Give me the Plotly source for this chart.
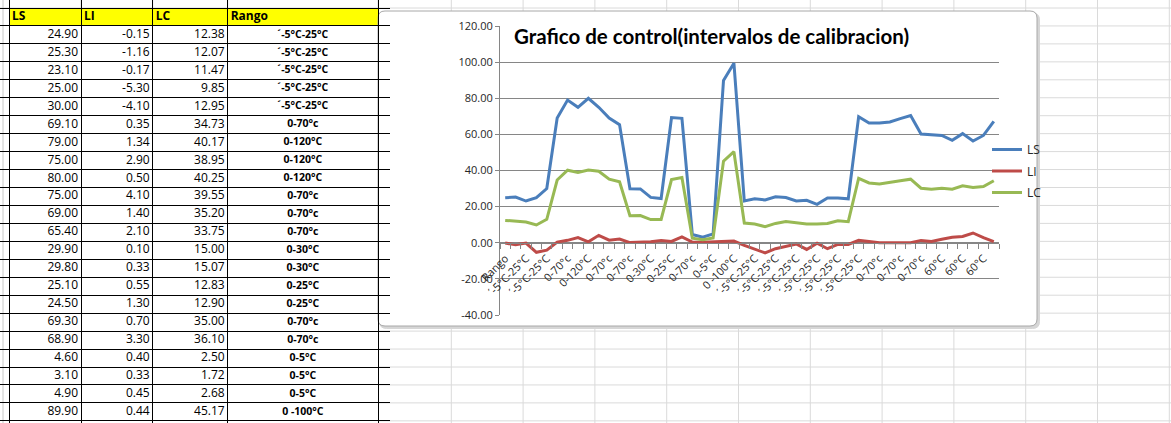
import plotly.graph_objects as go

# ---------------- data ----------------
categories = [
    "Rango",
    "´-5°C-25°C", "´-5°C-25°C", "´-5°C-25°C", "´-5°C-25°C", "´-5°C-25°C",
    "0-70°c", "0-120°C", "0-120°C", "0-120°C",
    "0-70°c", "0-70°c", "0-70°c",
    "0-30°C", "0-30°C", "0-25°C", "0-25°C",
    "0-70°c", "0-70°c",
    "0-5°C", "0-5°C", "0-5°C",
    "0 -100°C", "0 -100°C",
    "´-5°C-25°C", "´-5°C-25°C", "´-5°C-25°C", "´-5°C-25°C", "´-5°C-25°C", "´-5°C-25°C",
    "´-5°C-25°C", "´-5°C-25°C", "´-5°C-25°C", "´-5°C-25°C", "´-5°C-25°C",
    "0-70°c", "0-70°c", "0-70°c", "0-70°c", "0-70°c", "0-70°c",
    "60°C", "60°C", "60°C", "60°C", "60°C", "60°C", "60°C",
]

LS = [24.90, 25.30, 23.10, 25.00, 30.00, 69.10, 79.00, 75.00, 80.00, 75.00, 69.00,
      65.40, 29.90, 29.80, 25.10, 24.50, 69.30, 68.90, 4.60, 3.10, 4.90, 89.90,
      99.4, 23.1, 24.3, 23.7, 25.4, 25.0, 23.1, 23.5, 21.3, 24.8, 24.8, 24.3,
      69.8, 66.3, 66.3, 66.9, 68.7, 70.4,
      60.2, 59.6, 59.4, 56.7, 60.4, 56.3, 59.4, 67.2]
LI = [-0.15, -1.16, -0.17, -5.30, -4.10, 0.35, 1.34, 2.90, 0.50, 4.10, 1.40,
      2.10, 0.10, 0.33, 0.55, 1.30, 0.70, 3.30, 0.40, 0.33, 0.45, 0.44,
      0.9, -1.5, -3.5, -5.6, -3.3, -1.9, -0.7, -3.7, -0.2, -3.3, -0.9, -0.9,
      1.3, 0.7, 0.0, 0.0, 0.0, 0.0,
      1.3, 0.7, 1.9, 3.0, 3.5, 5.4, 2.8, 0.6]
LC = [12.38, 12.07, 11.47, 9.85, 12.95, 34.73, 40.17, 38.95, 40.25, 39.55, 35.20,
      33.75, 15.00, 15.07, 12.83, 12.90, 35.00, 36.10, 2.50, 1.72, 2.68, 45.17,
      50.4, 10.9, 10.4, 8.9, 10.7, 11.7, 11.1, 10.4, 10.4, 10.7, 12.2, 11.7,
      35.7, 33.1, 32.6, 33.3, 34.3, 35.2,
      30.2, 29.6, 30.2, 29.6, 31.5, 30.6, 31.1, 34.3]

headers = ["LS", "LI", "LC", "Rango"]
y_ticks = [-40, -20, 0, 20, 40, 60, 80, 100, 120]
table_rows = 22
title = "Grafico de control(intervalos de calibracion)"

# ---------------- geometry ----------------
W, H = 1171, 423
def X(px):
    return px / W
def Y(py):
    return 1 - py / H

PLOT_L, PLOT_R = 500, 999
PLOT_T, PLOT_B = 26, 315
ymin, ymax = y_ticks[0], y_ticks[-1]
zero_py = PLOT_T + (ymax - 0) / (ymax - ymin) * (PLOT_B - PLOT_T)

TAB_TOP = 8          # px, top of header row
ROW_H = 17.95        # px
COL_EDGES = [9, 81, 152.7, 227.7, 378]

FONT = "Open Sans"
colors = {"LS": "#4A7EBB", "LI": "#BE4B48", "LC": "#98B954"}

fig = go.Figure()

# ---------------- spreadsheet table (text on its own pixel axes) ----------------
def row_center(r):          # r = 0 header, 1.. data rows
    return TAB_TOP + ROW_H * (r + 0.5)

data_rows = list(range(1, table_rows + 1))
fig.add_trace(go.Scatter(
    x=[e + 3 for e in COL_EDGES[:4]], y=[row_center(0)] * 4,
    text=[f"<b>{h}</b>" for h in headers], mode="text", textposition="middle right",
    textfont=dict(family=FONT, size=12, color="#000000"),
    xaxis="x2", yaxis="y2", showlegend=False, hoverinfo="skip", cliponaxis=False,
))
for ci, series in enumerate((LS, LI, LC)):
    fig.add_trace(go.Scatter(
        x=[COL_EDGES[ci + 1] - 3] * table_rows, y=[row_center(r) for r in data_rows],
        text=[f"{v:.2f}" for v in series[:table_rows]], mode="text",
        textposition="middle left",
        textfont=dict(family=FONT, size=12, color="#000000"),
        xaxis="x2", yaxis="y2", showlegend=False, hoverinfo="skip", cliponaxis=False,
    ))
fig.add_trace(go.Scatter(
    x=[(COL_EDGES[3] + COL_EDGES[4]) / 2] * table_rows, y=[row_center(r) for r in data_rows],
    text=[f"<b>{c}</b>" for c in categories[1:1 + table_rows]], mode="text",
    textposition="middle center",
    textfont=dict(family=FONT, size=10.5, color="#000000"),
    xaxis="x2", yaxis="y2", showlegend=False, hoverinfo="skip", cliponaxis=False,
))

# ---------------- chart lines ----------------
xs = list(range(len(LS)))
for name, vals in (("LS", LS), ("LI", LI), ("LC", LC)):
    fig.add_trace(go.Scatter(
        x=xs, y=vals, mode="lines", name=name, legendgroup=name,
        line=dict(color=colors[name], width=3),
        xaxis="x", yaxis="y", hoverinfo="skip",
    ))

# ---------------- shapes: sheet grid + chart box ----------------
shapes = []
grid_c = "#DADADA"
for k in range(table_rows + 1):
    py = TAB_TOP + ROW_H * (k + 1)
    shapes.append(dict(type="line", xref="paper", yref="paper",
                       x0=X(378), x1=X(W), y0=Y(py), y1=Y(py),
                       line=dict(color=grid_c, width=1), layer="below"))
shapes.append(dict(type="line", xref="paper", yref="paper",
                   x0=0, x1=1, y0=Y(TAB_TOP), y1=Y(TAB_TOP),
                   line=dict(color=grid_c, width=1), layer="below"))
for k in range(1, 12):
    px = 379.5 + 71.8 * k
    shapes.append(dict(type="line", xref="paper", yref="paper",
                       x0=X(px), x1=X(px), y0=0, y1=1,
                       line=dict(color=grid_c, width=1), layer="below"))
for px in COL_EDGES[1:]:
    shapes.append(dict(type="line", xref="paper", yref="paper",
                       x0=X(px), x1=X(px), y0=Y(TAB_TOP), y1=1,
                       line=dict(color=grid_c, width=1), layer="below"))
shapes.append(dict(type="line", xref="paper", yref="paper",
                   x0=X(3), x1=X(3), y0=0, y1=1,
                   line=dict(color="#C8C8C8", width=1), layer="below"))
shapes.append(dict(type="rect", xref="paper", yref="paper",
                   x0=X(COL_EDGES[0]), x1=X(COL_EDGES[-1]),
                   y0=Y(TAB_TOP + ROW_H), y1=Y(TAB_TOP),
                   fillcolor="#FFFF00", line=dict(width=0), layer="below"))

def rounded(x0, y0, x1, y1, r):
    return (f"M {X(x0 + r)},{Y(y0)} L {X(x1 - r)},{Y(y0)} Q {X(x1)},{Y(y0)} {X(x1)},{Y(y0 + r)} "
            f"L {X(x1)},{Y(y1 - r)} Q {X(x1)},{Y(y1)} {X(x1 - r)},{Y(y1)} "
            f"L {X(x0 + r)},{Y(y1)} Q {X(x0)},{Y(y1)} {X(x0)},{Y(y1 - r)} "
            f"L {X(x0)},{Y(y0 + r)} Q {X(x0)},{Y(y0)} {X(x0 + r)},{Y(y0)} Z")

shapes.append(dict(type="path", xref="paper", yref="paper",
                   path=rounded(379.5, 13, 1039.5, 328.5, 7),
                   fillcolor="#D6D6D6", line=dict(color="#D6D6D6", width=1), layer="below"))
shapes.append(dict(type="path", xref="paper", yref="paper",
                   path=rounded(378, 11, 1037, 326, 7),
                   fillcolor="#FFFFFF", line=dict(color="#A8A8A8", width=1), layer="below"))

# ---------------- layout ----------------
fig.update_layout(
    width=W, height=H, autosize=False,
    margin=dict(l=0, r=0, t=0, b=0, pad=0, autoexpand=False),
    paper_bgcolor="#FFFFFF", plot_bgcolor="rgba(0,0,0,0)",
    font=dict(family=FONT, color="#262626"),
    shapes=shapes,
    showlegend=True,
    legend=dict(
        x=X(987), y=Y(135), xanchor="left", yanchor="top",
        font=dict(family=FONT, size=12, color="#262626"),
        bgcolor="rgba(0,0,0,0)", itemwidth=30, tracegroupgap=2.5,
        traceorder="grouped",
    ),
    xaxis=dict(
        domain=[X(PLOT_L), X(PLOT_R)],
        range=[-0.5, len(LS) - 0.5],
        anchor="free", position=Y(zero_py), automargin=False,
        showline=True, linecolor="#868686", linewidth=1,
        showgrid=False, zeroline=False,
        tickmode="array", tickvals=xs[0::2], ticktext=categories[0::2],
        tickangle=-45, ticks="outside", ticklen=4, tickcolor="rgba(0,0,0,0)",
        tickfont=dict(family=FONT, size=11, color="#262626"),
        minor=dict(tickmode="array", tickvals=[i - 0.5 for i in range(len(LS) + 1)],
                   ticks="outside", ticklen=5, tickcolor="#868686", tickwidth=1,
                   showgrid=False),
        fixedrange=True,
    ),
    yaxis=dict(
        domain=[Y(PLOT_B), Y(PLOT_T)],
        range=[ymin, ymax],
        anchor="x", automargin=False,
        showline=True, linecolor="#868686", linewidth=1,
        showgrid=True, gridcolor="#868686", gridwidth=1,
        zeroline=False,
        tickmode="array", tickvals=y_ticks, ticktext=[f"{v:.2f}" for v in y_ticks],
        ticks="outside", ticklen=4, tickcolor="#868686",
        tickfont=dict(family=FONT, size=11, color="#262626"),
        fixedrange=True,
    ),
    xaxis2=dict(
        domain=[0, X(390)], range=[0, 390], anchor="y2", automargin=False,
        showgrid=True, gridcolor="#000000", gridwidth=1,
        tickmode="array", tickvals=COL_EDGES, showticklabels=False, ticks="",
        zeroline=False, showline=False, fixedrange=True,
    ),
    yaxis2=dict(
        domain=[0, 1], range=[H, 0], anchor="x2", automargin=False,
        showgrid=True, gridcolor="#000000", gridwidth=1,
        tickmode="array", tickvals=[TAB_TOP + ROW_H * k for k in range(table_rows + 2)],
        showticklabels=False, ticks="", zeroline=False, showline=False, fixedrange=True,
    ),
    annotations=[dict(
        text=f"<b>{title}</b>", xref="paper", yref="paper",
        x=X(512), y=Y(36), xanchor="left", yanchor="middle", showarrow=False,
        font=dict(family="Lato", size=20.5, color="#000000"),
    )],
)

fig.write_html("out.html", config={"displayModeBar": False},
               post_script="document.body.style.margin='0px';")
